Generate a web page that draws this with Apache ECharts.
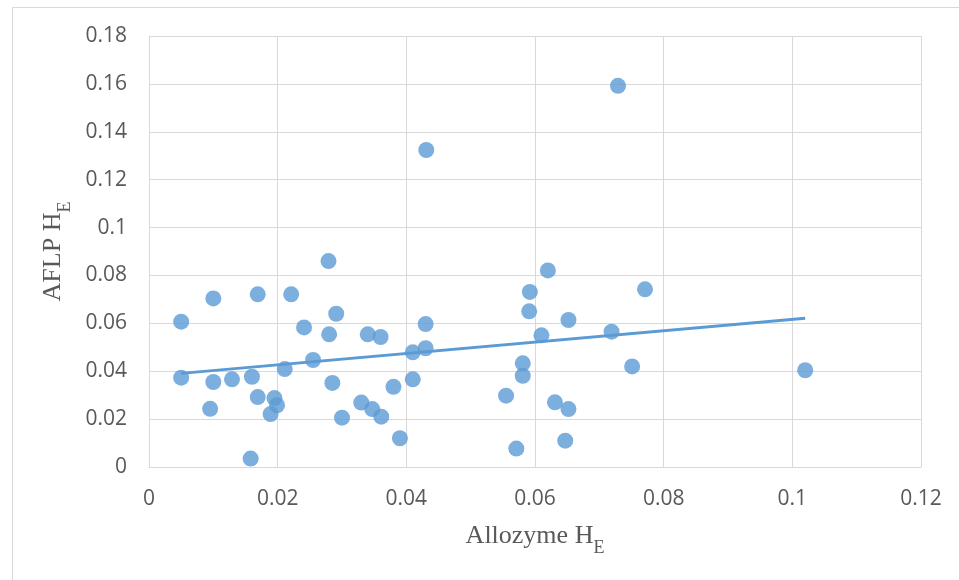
<!DOCTYPE html>
<html>
<head>
<meta charset="utf-8">
<script src="https://cdn.jsdelivr.net/npm/echarts@6/dist/echarts.min.js"></script>
<style>
  html, body { margin: 0; padding: 0; background: #fff; }
  #chart { width: 959px; height: 580px; }
</style>
</head>
<body>
<div id="chart"></div>
<script>
// allozyme HE (x) vs AFLP HE (y)
var allozymeHE = [
  0.0279, 0.0100, 0.0169, 0.0221, 0.0050, 0.0291, 0.0241, 0.0280, 0.0340, 0.0360,
  0.0430, 0.0410, 0.0430, 0.0050, 0.0100, 0.0129, 0.0160, 0.0211, 0.0255, 0.0285,
  0.0095, 0.0169, 0.0195, 0.0199, 0.0189, 0.0300, 0.0330, 0.0347, 0.0361, 0.0380,
  0.0410, 0.0390, 0.0158, 0.0620, 0.0592, 0.0771, 0.0591, 0.0652, 0.0610, 0.0719,
  0.0581, 0.0581, 0.0751, 0.0555, 0.0631, 0.0652, 0.0571, 0.0647, 0.1020, 0.0729,
  0.0431
];
var aflpHE = [
  0.0860, 0.0704, 0.0721, 0.0721, 0.0607, 0.0640, 0.0583, 0.0554, 0.0554, 0.0543,
  0.0597, 0.0479, 0.0496, 0.0373, 0.0355, 0.0366, 0.0377, 0.0409, 0.0447, 0.0351,
  0.0243, 0.0292, 0.0288, 0.0258, 0.0221, 0.0206, 0.0269, 0.0242, 0.0210, 0.0335,
  0.0366, 0.0120, 0.0035, 0.0821, 0.0731, 0.0742, 0.0650, 0.0614, 0.0550, 0.0565,
  0.0433, 0.0381, 0.0420, 0.0298, 0.0270, 0.0242, 0.0077, 0.0110, 0.0404, 0.1592,
  0.1324
];
// linear trendline end points as drawn
var trendX = [0.005, 0.102];
var trendY = [0.0391, 0.0621];

var xTicks = [0, 0.02, 0.04, 0.06, 0.08, 0.1, 0.12];
var yTicks = [0, 0.02, 0.04, 0.06, 0.08, 0.1, 0.12, 0.14, 0.16, 0.18];

var points = allozymeHE.map(function (x, i) { return [x, aflpHE[i]]; });
var trend = trendX.map(function (x, i) { return [x, trendY[i]]; });

var labelColor = '#595959';
var gridColor = '#d9d9d9';
var serif = '"Liberation Serif", "Times New Roman", serif';

function tickFmt(v) {
  return String(+v.toFixed(2));
}

var titleRich = {
  m: { fontFamily: serif, fontSize: 26, color: labelColor, lineHeight: 30, verticalAlign: 'top' },
  s: { fontFamily: serif, fontSize: 18, color: labelColor, lineHeight: 18, verticalAlign: 'top', padding: [16, 0, 0, 0] }
};

var myChart = echarts.init(document.getElementById('chart'));
var option = {
  animation: false,
  backgroundColor: '#fff',
  grid: {
    left: 149,
    right: 38,
    top: 36,
    bottom: 113,
    outerBoundsMode: 'none'
  },
  graphic: [{
    type: 'rect',
    shape: { x: 12.5, y: 7.5, width: 1200, height: 1200 },
    style: { fill: 'none', stroke: gridColor, lineWidth: 1 },
    silent: true
  }],
  xAxis: {
    type: 'value',
    min: xTicks[0],
    max: xTicks[xTicks.length - 1],
    interval: 0.02,
    name: '{m|Allozyme H}{s|E}',
    nameLocation: 'middle',
    nameGap: 56,
    nameTextStyle: { color: labelColor, rich: titleRich },
    axisLine: { show: true, lineStyle: { color: gridColor, width: 1 } },
    axisTick: { show: false },
    splitLine: { show: true, lineStyle: { color: gridColor, width: 1 } },
    axisLabel: {
      color: labelColor,
      fontFamily: 'Open Sans',
      fontSize: 21,
      margin: 22,
      formatter: tickFmt
    }
  },
  yAxis: {
    type: 'value',
    min: yTicks[0],
    max: yTicks[yTicks.length - 1],
    interval: 0.02,
    name: '{m|AFLP H}{s|E}',
    nameLocation: 'middle',
    nameRotate: 90,
    nameGap: 66,
    nameTextStyle: { color: labelColor, rich: titleRich },
    axisLine: { show: false },
    axisTick: { show: false },
    splitLine: { show: true, lineStyle: { color: gridColor, width: 1 } },
    axisLabel: {
      color: labelColor,
      fontFamily: 'Open Sans',
      fontSize: 21,
      margin: 22,
      formatter: tickFmt
    }
  },
  series: [{
    type: 'scatter',
    data: points,
    symbol: 'circle',
    symbolSize: 16,
    itemStyle: { color: '#5b9bd5' },
    z: 2
  }, {
    type: 'line',
    data: trend,
    showSymbol: false,
    symbol: 'none',
    lineStyle: { color: '#5b9bd5', width: 3 },
    z: 3
  }]
};
myChart.setOption(option, true);
</script>
</body>
</html>
